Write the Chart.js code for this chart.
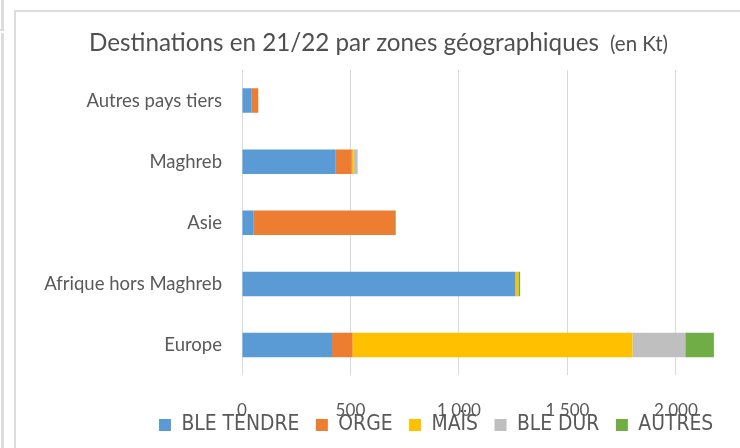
<!DOCTYPE html>
<html><head><meta charset="utf-8">
<script src="https://cdn.jsdelivr.net/npm/chart.js@4"></script>
<style>
html,body{margin:0;padding:0;background:#fff;overflow:hidden}
#wrap{position:relative;width:740px;height:448px}
.f{position:absolute;background:#dcdcdc}
canvas{position:absolute;left:0;top:0}
</style></head><body>
<div id="wrap">
<div class="f" style="left:14px;top:10px;width:726px;height:2px"></div>
<div class="f" style="left:14px;top:10px;width:2px;height:438px"></div>
<div class="f" style="left:1px;top:0;width:3px;height:30px"></div>
<div class="f" style="left:0;top:29px;width:4px;height:2px"></div>
<div class="f" style="left:1px;top:33px;width:3px;height:415px"></div>
<canvas id="c" width="740" height="448"></canvas>
</div>
<script>
const categories = ["Autres pays tiers", "Maghreb", "Asie", "Afrique hors Maghreb", "Europe"];
const seriesNames = ["BLE TENDRE", "ORGE", "MAÏS", "BLE DUR", "AUTRES"];
const bleTendre = [45, 432, 54, 1260, 415];
const orge      = [30, 74, 652, 0, 95];
const mais      = [0, 9, 0, 14, 1290];
const bleDur    = [0, 18, 0, 0, 243];
const autres    = [0, 0, 3, 8, 132];
const xTicks    = [0, 500, 1000, 1500, 2000];
const titleMain = "Destinations en 21/22 par zones géographiques";
const titleSub  = "(en Kt)";

const colors = ["#5b9bd5", "#ed7d31", "#ffc000", "#bfbfbf", "#70ad47"];
const seriesValues = [bleTendre, orge, mais, bleDur, autres];

const BASE = "Lato, 'Open Sans', sans-serif";
const NARROW = "'DejaVu Sans Condensed', 'Liberation Sans Narrow', sans-serif";
const mctx = document.createElement('canvas').getContext('2d');
function fit(text, family, target) {
  mctx.font = "100px " + family;
  return 100 * target / mctx.measureText(text).width;
}
const titleSize = fit(titleMain, BASE, 510);
const subSize = fit(titleSub, BASE, 58);
const yLabelSize = fit("Afrique hors Maghreb", BASE, 178);
const xTickSize = fit("1 000", BASE, 44);
const legendSize = fit("BLE TENDRE", NARROW, 118);
const LEGEND_PAD = 16.5;
const LEGEND_START_X = 159;   // left edge of first legend swatch
const LEGEND_TEXT_Y = 425;    // vertical centre line of legend row

function fmt(v) { return String(v).replace(/\B(?=(\d{3})+(?!\d))/g, " "); }

const titlePlugin = {
  id: 'customTitle',
  afterDraw(chart) {
    const ctx = chart.ctx;
    ctx.save();
    ctx.fillStyle = '#505050';
    ctx.textAlign = 'left';
    ctx.textBaseline = 'alphabetic';
    ctx.font = titleSize + "px " + BASE;
    ctx.fillText(titleMain, 89, 51);
    ctx.font = subSize + "px " + BASE;
    ctx.fillText(titleSub, 610, 51);
    ctx.restore();
  }
};

const legendPlacer = {
  id: 'legendPlacer',
  afterLayout(chart) {
    const lg = chart.legend;
    if (!lg || !lg.lineWidths) return;
    const h = lg.bottom - lg.top;
    lg.top = LEGEND_TEXT_Y - LEGEND_PAD - legendSize / 2;
    lg.bottom = lg.top + h;
    lg.right = 900;
    lg.left = 2 * LEGEND_START_X - LEGEND_PAD - lg.right + lg.lineWidths[0];
    lg.width = lg.right - lg.left;
  }
};

new Chart(document.getElementById('c'), {
  type: 'bar',
  data: {
    labels: categories,
    datasets: seriesNames.map((n, i) => ({
      label: n,
      data: seriesValues[i],
      backgroundColor: colors[i],
      borderWidth: 0,
      barPercentage: 0.8,
      categoryPercentage: 0.5
    }))
  },
  options: {
    indexAxis: 'y',
    responsive: false,
    animation: false,
    devicePixelRatio: 1,
    layout: { padding: { top: 70, right: 5.5, bottom: -24, left: 0 } },
    plugins: {
      title: { display: false },
      tooltip: { enabled: false },
      legend: {
        position: 'bottom',
        align: 'center',
        labels: {
          boxWidth: 12, boxHeight: 12, padding: LEGEND_PAD,
          color: '#595959',
          font: { family: NARROW, size: legendSize }
        }
      }
    },
    scales: {
      x: {
        stacked: true,
        min: 0, max: 2270,
        afterBuildTicks: s => { s.ticks = xTicks.map(v => ({ value: v })); },
        afterFit: s => { s.height = 49; },
        grid: { color: '#d9d9d9', lineWidth: 1, drawTicks: false },
        border: { display: true, color: 'rgba(0,0,0,0)' },
        ticks: {
          padding: 25,
          color: '#595959',
          font: { family: BASE, size: xTickSize },
          callback: v => fmt(v)
        }
      },
      y: {
        stacked: true,
        afterFit: s => { s.width = 242; },
        grid: { display: false },
        border: { display: false },
        ticks: {
          padding: 12,
          color: '#595959',
          font: { family: BASE, size: yLabelSize }
        }
      }
    }
  },
  plugins: [titlePlugin, legendPlacer]
});
</script>
</body></html>
